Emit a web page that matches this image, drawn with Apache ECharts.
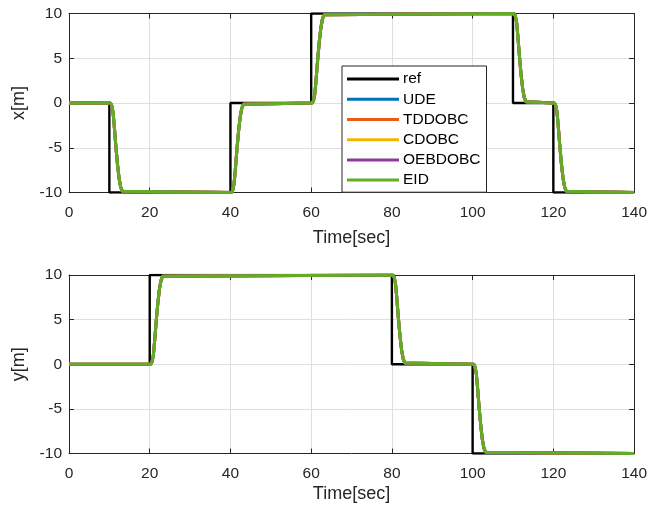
<!DOCTYPE html>
<html>
<head>
<meta charset="utf-8">
<script src="https://cdn.jsdelivr.net/npm/echarts@6/dist/echarts.min.js"></script>
<style>
  html, body { margin: 0; padding: 0; background: #fff; }
  #main { width: 650px; height: 513px; }
</style>
</head>
<body>
<div id="main"></div>
<script>
// Reference trajectories: [switch time, new level], held until the next switch
const refX = [[0, 0], [10, -10], [40, 0], [60, 10], [110, 0], [120, -10], [140, -10]];
const refY = [[0, 0], [20, 10], [80, 0], [100, -10], [140, -10]];

// Tracked x position (all controllers overlap closely)
const respX = [
  [0, 0], [10.3, 0], [10.6, -0.3], [10.9, -1], [11.2, -2.5], [11.6, -4.8], [12, -6.8],
  [12.4, -8.4], [12.8, -9.4], [13.2, -9.85], [13.6, -10],
  [40.3, -10], [40.6, -9.7], [40.9, -9], [41.2, -7.5], [41.6, -5.2], [42, -3.2],
  [42.4, -1.6], [42.8, -0.6], [43.2, -0.15], [43.6, 0],
  [60.3, 0], [60.6, 0.3], [60.9, 1], [61.2, 2.5], [61.6, 4.8], [62, 6.8],
  [62.4, 8.4], [62.8, 9.4], [63.2, 9.85], [63.6, 10],
  [110.3, 10], [110.6, 9.7], [110.9, 9], [111.2, 7.5], [111.6, 5.2], [112, 3.2],
  [112.4, 1.6], [112.8, 0.6], [113.2, 0.15], [113.6, 0],
  [120.3, 0], [120.6, -0.3], [120.9, -1], [121.2, -2.5], [121.6, -4.8], [122, -6.8],
  [122.4, -8.4], [122.8, -9.4], [123.2, -9.85], [123.6, -10],
  [140, -10]
];

// Tracked y position
const respY = [
  [0, 0], [20.3, 0], [20.6, 0.3], [20.9, 1], [21.2, 2.5], [21.6, 4.8], [22, 6.8],
  [22.4, 8.4], [22.8, 9.4], [23.2, 9.85], [23.6, 10],
  [80.3, 10], [80.6, 9.7], [80.9, 9], [81.2, 7.5], [81.6, 5.2], [82, 3.2],
  [82.4, 1.6], [82.8, 0.6], [83.2, 0.15], [83.6, 0],
  [100.3, 0], [100.6, -0.3], [100.9, -1], [101.2, -2.5], [101.6, -4.8], [102, -6.8],
  [102.4, -8.4], [102.8, -9.4], [103.2, -9.85], [103.6, -10],
  [140, -10]
];

const seriesNames = ['ref', 'UDE', 'TDDOBC', 'CDOBC', 'OEBDOBC', 'EID'];
const seriesColors = ['#000000', '#0072BD', '#F05A14', '#F5B400', '#8E3A9A', '#62AE23'];

const timeTicks = { min: 0, max: 140, interval: 20 };
const posTicks = { min: -10, max: 10, interval: 5 };

const FONT = 'Liberation Sans, Arial, Helvetica, sans-serif';
const AX = '#262626';
const GRIDC = '#dfdfdf';

const chart = echarts.init(document.getElementById('main'), null, { renderer: 'canvas' });

function xAxisPair(gridIndex, nameGap) {
  return [
    {
      type: 'value', gridIndex, ...timeTicks, position: 'bottom',
      name: 'Time[sec]', nameLocation: 'middle', nameGap,
      nameTextStyle: { fontFamily: FONT, fontSize: 18, color: AX },
      axisLine: { show: true, onZero: false, lineStyle: { color: AX, width: 1 } },
      axisTick: { show: true, inside: true, length: 5, lineStyle: { color: AX } },
      axisLabel: { fontFamily: FONT, fontSize: 15.5, color: AX, margin: 12 },
      splitLine: { show: true, lineStyle: { color: GRIDC, width: 1 } }
    },
    {
      type: 'value', gridIndex, ...timeTicks, position: 'top',
      axisLine: { show: true, onZero: false, lineStyle: { color: AX, width: 1 } },
      axisTick: { show: true, inside: true, length: 5, lineStyle: { color: AX } },
      axisLabel: { show: false },
      splitLine: { show: false }
    }
  ];
}

function yAxisPair(gridIndex, label) {
  return [
    {
      type: 'value', gridIndex, ...posTicks, position: 'left',
      name: label, nameLocation: 'middle', nameGap: 41,
      nameTextStyle: { fontFamily: FONT, fontSize: 18, color: AX },
      axisLine: { show: true, onZero: false, lineStyle: { color: AX, width: 1 } },
      axisTick: { show: true, inside: true, length: 5, lineStyle: { color: AX } },
      axisLabel: { fontFamily: FONT, fontSize: 15.5, color: AX, margin: 7 },
      splitLine: { show: true, lineStyle: { color: GRIDC, width: 1 } }
    },
    {
      type: 'value', gridIndex, ...posTicks, position: 'right',
      axisLine: { show: true, onZero: false, lineStyle: { color: AX, width: 1 } },
      axisTick: { show: true, inside: true, length: 5, lineStyle: { color: AX } },
      axisLabel: { show: false },
      splitLine: { show: false }
    }
  ];
}

function plotSeries(gridIdx, refData, respData) {
  const xi = gridIdx * 2, yi = gridIdx * 2;
  const out = [];
  seriesNames.forEach((name, k) => {
    const isRef = k === 0;
    out.push({
      name, type: 'line', xAxisIndex: xi, yAxisIndex: yi,
      data: isRef ? refData : respData,
      step: isRef ? 'end' : false,
      showSymbol: false, symbol: 'none', animation: false,
      color: seriesColors[k],
      lineStyle: { color: seriesColors[k], width: isRef ? 2.4 : 3 },
      z: 2 + k
    });
  });
  return out;
}

chart.setOption({
  backgroundColor: '#ffffff',
  animation: false,
  grid: [
    { left: 69, width: 569, top: 13.5, height: 179 },
    { left: 69, width: 569, top: 275, height: 178.5 }
  ],
  xAxis: [...xAxisPair(0, 37), ...xAxisPair(1, 32)],
  yAxis: [...yAxisPair(0, 'x[m]'), ...yAxisPair(1, 'y[m]')],
  legend: {
    data: seriesNames,
    orient: 'vertical',
    left: 342, top: 66,
    backgroundColor: '#ffffff',
    borderColor: AX, borderWidth: 1, borderRadius: 0,
    padding: [3, 6, 2, 5],
    itemGap: 0,
    itemWidth: 52, itemHeight: 3,
    icon: 'rect',
    textStyle: { fontFamily: FONT, fontSize: 15.5, color: '#000', lineHeight: 20.2, padding: [0, 0, 0, -1] }
  },
  series: [...plotSeries(0, refX, respX), ...plotSeries(1, refY, respY)]
});
</script>
</body>
</html>
